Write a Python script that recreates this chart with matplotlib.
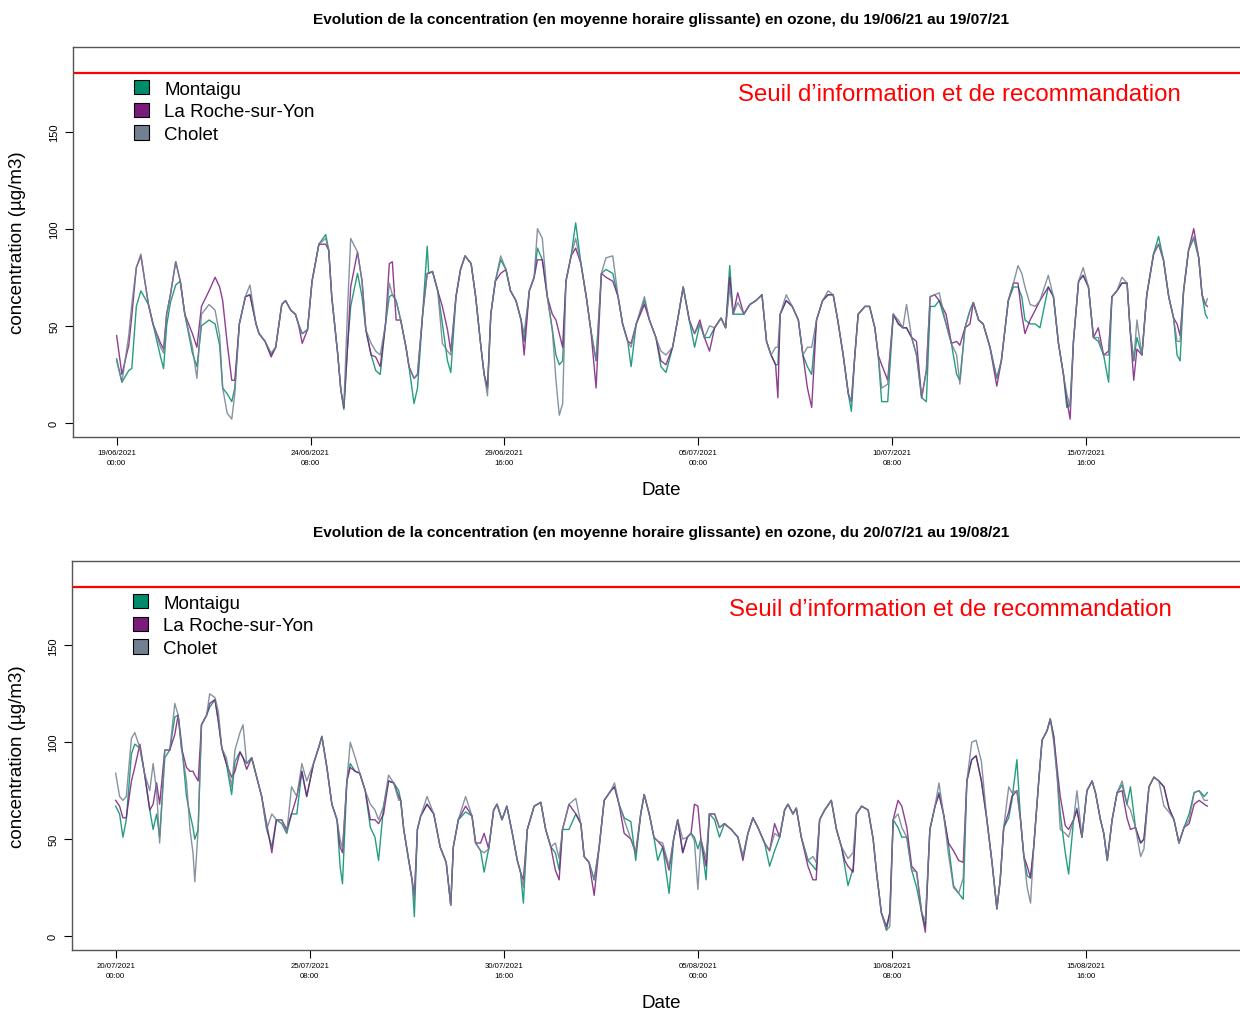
import matplotlib
matplotlib.use("Agg")
import matplotlib.pyplot as plt
from matplotlib.patches import Patch
import numpy as np

plt.rcParams['font.family'] = ['Liberation Sans', 'DejaVu Sans']

stations = ['Montaigu', 'La Roche-sur-Yon', 'Cholet']
colors = ['#008B6B', '#7B1C7D', '#708090']
seuil = 180
seuil_txt = 'Seuil d\u2019information et de recommandation'

# heures depuis le debut de la periode
tick_hours = [0, 128, 256, 384, 512, 640]

# ---- periode 1 : 19/06/21 -> 19/07/21
juin_title = 'Evolution de la concentration (en moyenne horaire glissante) en ozone, du 19/06/21 au 19/07/21'
juin_ticks = ['19/06/2021\n00:00', '24/06/2021\n08:00', '29/06/2021\n16:00',
              '05/07/2021\n00:00', '10/07/2021\n08:00', '15/07/2021\n16:00']
juin_h = [0, 3.5, 8, 10, 13, 16, 21, 24, 29, 31,
          33, 35.5, 39, 42, 45, 50, 53, 56, 61, 65,
          68, 70, 73, 76, 78, 81, 85, 88, 92, 94,
          98, 102, 105, 109, 111.5, 115, 118, 120, 122.5, 126,
          129, 133.5, 138, 140, 142, 146, 148, 150, 152.5, 154.5,
          159, 162, 164.5, 168, 171, 174, 177.5, 180, 182, 184.5,
          187.5, 191, 193, 196.3, 198.6, 202, 205, 206, 208.5, 212,
          215, 218.4, 220.6, 224, 227, 230, 234, 237, 240.5, 242.6,
          244.8, 247, 250, 253.5, 257, 260, 263.6, 267, 269, 272.4,
          275.6, 277.8, 281, 284.3, 287.6, 290, 292.2, 294.4, 296.6, 300,
          303, 306.5, 310, 313, 316.5, 320, 323, 327.5, 331, 334,
          337.4, 339.6, 343, 348.4, 351.7, 356, 359.3, 362.6, 367, 370.3,
          374, 378, 381.5, 385, 388, 391.4, 394.7, 399, 402, 404.7,
          407, 410, 414, 418, 422, 426, 429, 432, 435, 436.5,
          438, 442, 446, 450, 453, 456, 458.8, 462, 466, 469.6,
          473, 476, 479.6, 483, 485, 487.3, 489.5, 494, 497, 500.5,
          502.7, 505, 509, 512.7, 516, 519, 521.4, 524.8, 528, 531.4,
          534.5, 537, 540, 543, 547.5, 551, 554.5, 556.6, 560, 563.3,
          565.5, 569, 572, 576.5, 581, 584, 588.6, 592, 595, 597.5,
          599.6, 603, 606.3, 609.5, 615, 618.4, 621.7, 625, 627.2, 629.4,
          631.6, 635, 638, 641.5, 644.8, 648, 651.5, 654.8, 657, 660.3,
          663.6, 667, 669, 671.4, 673.5, 676.8, 680, 684.5, 687.8, 691,
          694.5, 697.7, 700, 702, 704.3, 707.6, 711, 714.3, 716.5, 718.7,
          720]
juin_montaigu = [33, 21, 27, 28, 60, 68, 61, 51, 34, 28,
                 50, 62, 71, 73, 56, 36, 29, 50, 53, 51,
                 40, 18, 15, 11, 18, 51, 65, 66, 51, 46,
                 42, 35, 39, 61, 63, 58, 56, 51, 46, 48,
                 73, 92, 97, 89, 65, 35, 17, 7, 40, 60,
                 77, 65, 48, 35, 27, 25, 51, 65, 66, 63,
                 53, 39, 29, 10, 18, 56, 91, 77, 78, 68,
                 51, 32, 26, 65, 79, 86, 82, 65, 39, 25,
                 18, 56, 73, 84, 79, 68, 63, 53, 42, 68,
                 75, 90, 84, 65, 48, 35, 30, 32, 73, 86,
                 103, 82, 65, 48, 32, 77, 79, 77, 65, 51,
                 42, 29, 51, 63, 53, 44, 29, 26, 39, 53,
                 70, 53, 39, 51, 44, 44, 49, 54, 49, 81,
                 56, 56, 56, 61, 63, 66, 42, 35, 30, 30,
                 56, 63, 60, 53, 35, 29, 25, 53, 63, 66,
                 66, 53, 35, 15, 6, 35, 56, 60, 60, 49,
                 35, 11, 11, 56, 51, 49, 49, 44, 35, 13,
                 11, 60, 60, 63, 51, 41, 25, 22, 49, 58,
                 62, 53, 51, 39, 23, 32, 63, 70, 70, 65,
                 53, 51, 51, 49, 70, 65, 41, 25, 8, 10,
                 42, 73, 76, 70, 44, 42, 35, 21, 65, 68,
                 72, 72, 48, 32, 44, 35, 66, 87, 96, 84,
                 65, 54, 35, 32, 68, 89, 95, 85, 66, 56,
                 54]
juin_roche = [45, 25, 40, 55, 80, 86, 61, 51, 41, 38,
              56, 66, 83, 73, 56, 46, 39, 60, 68, 75,
              70, 63, 41, 22, 22, 51, 65, 66, 51, 46,
              42, 34, 39, 61, 63, 58, 56, 51, 41, 48,
              73, 92, 92, 89, 65, 35, 17, 8, 40, 70,
              88, 73, 48, 35, 34, 29, 51, 82, 83, 53,
              53, 39, 29, 23, 25, 56, 77, 77, 78, 68,
              60, 48, 37, 65, 79, 86, 82, 65, 39, 25,
              18, 56, 73, 77, 79, 68, 63, 53, 35, 68,
              75, 84, 84, 65, 56, 53, 46, 39, 73, 86,
              90, 82, 65, 48, 18, 77, 75, 73, 65, 51,
              42, 41, 51, 61, 53, 44, 32, 30, 39, 53,
              70, 53, 46, 53, 44, 37, 49, 54, 49, 75,
              56, 67, 56, 61, 63, 66, 42, 35, 30, 13,
              56, 63, 60, 53, 35, 18, 8, 53, 63, 66,
              66, 53, 35, 15, 11, 35, 56, 60, 60, 49,
              35, 30, 22, 56, 51, 49, 49, 44, 42, 13,
              27, 65, 66, 63, 56, 41, 42, 40, 49, 51,
              62, 53, 51, 39, 19, 32, 63, 72, 72, 56,
              46, 53, 58, 63, 70, 65, 41, 25, 12, 2,
              42, 73, 76, 70, 44, 49, 35, 37, 65, 68,
              72, 72, 48, 22, 38, 35, 66, 87, 92, 84,
              65, 54, 51, 45, 68, 89, 100, 85, 66, 61,
              60]
juin_cholet = [32, 21, 45, 61, 80, 87, 61, 51, 39, 36,
               56, 66, 83, 73, 56, 39, 23, 56, 61, 58,
               45, 18, 5, 2, 15, 51, 65, 71, 51, 46,
               42, 36, 39, 61, 63, 58, 56, 51, 46, 48,
               73, 92, 95, 89, 65, 35, 17, 9, 60, 95,
               88, 73, 48, 41, 37, 35, 51, 72, 66, 63,
               53, 39, 29, 23, 25, 56, 77, 77, 78, 68,
               41, 37, 35, 65, 79, 86, 82, 65, 39, 25,
               14, 56, 73, 86, 79, 68, 63, 53, 46, 68,
               75, 100, 95, 65, 48, 22, 4, 10, 73, 86,
               95, 82, 65, 48, 32, 77, 85, 86, 65, 51,
               42, 39, 51, 65, 53, 44, 37, 35, 39, 53,
               70, 53, 46, 51, 44, 50, 49, 54, 49, 70,
               56, 62, 56, 61, 63, 66, 42, 35, 39, 39,
               56, 66, 60, 53, 35, 39, 39, 53, 63, 68,
               66, 53, 35, 15, 11, 35, 56, 60, 60, 49,
               35, 18, 20, 56, 53, 49, 61, 44, 35, 13,
               27, 65, 66, 67, 51, 41, 35, 20, 49, 58,
               62, 53, 51, 39, 23, 32, 63, 72, 81, 77,
               70, 61, 60, 63, 76, 65, 41, 25, 15, 8,
               42, 73, 80, 70, 44, 44, 35, 35, 65, 68,
               75, 72, 48, 32, 53, 35, 66, 87, 92, 84,
               65, 54, 42, 42, 68, 89, 96, 85, 66, 61,
               64]

# ---- periode 2 : 20/07/21 -> 19/08/21
aout_title = 'Evolution de la concentration (en moyenne horaire glissante) en ozone, du 20/07/21 au 19/08/21'
aout_ticks = ['20/07/2021\n00:00', '25/07/2021\n08:00', '30/07/2021\n16:00',
              '05/08/2021\n00:00', '10/08/2021\n08:00', '15/08/2021\n16:00']
aout_h = [0, 2.6, 4.8, 7, 10.4, 12.6, 16, 19, 22.5, 24.7,
          27, 29, 32.4, 35.7, 39, 41.2, 43.4, 46.7, 49, 51,
          52.2, 54.4, 56.6, 60, 62, 65.5, 67.7, 70, 73, 76.5,
          78.7, 82, 84, 86.4, 89.7, 93, 96.3, 99.6, 103, 106,
          109.5, 112.8, 116, 119.5, 122.8, 126, 130.5, 133.8, 136, 139.3,
          142.6, 146, 148, 149.6, 152.5, 154.7, 158, 161, 164.6, 168,
          171, 173.4, 176.7, 180, 183.4, 186.7, 188, 190, 193.3, 195.5,
          197, 199, 201.2, 205.4, 209.8, 214, 218, 221, 222.7, 226,
          230.8, 235, 237.4, 240.7, 243, 246, 249.3, 251.5, 254.8, 258,
          261.6, 264.9, 267, 268.9, 271.5, 276, 280.4, 283.6, 287, 290,
          292.5, 294.7, 299, 303.5, 306.8, 309, 312.2, 315.6, 318.9, 322.2,
          326.6, 329, 332, 335.4, 339.8, 343, 346.3, 348.6, 351.9, 355,
          357.5, 360.8, 365, 368, 370.7, 374, 377, 379.5, 381.7, 384,
          386, 389.4, 391.6, 395, 398.2, 401.5, 406, 410.4, 413.7, 417,
          420.3, 423.6, 428, 431.3, 434.6, 437.9, 441.2, 443.4, 446.7, 448.9,
          452.2, 456.6, 459.9, 462, 464.3, 467.6, 472, 475.4, 478.7, 480.9,
          483, 486.4, 488.6, 492, 496.3, 499.6, 501.8, 505, 508.4, 510.6,
          512.8, 516, 518.5, 521.8, 525, 528.3, 531.6, 534, 537, 540.4,
          543, 546, 549.3, 552.6, 556, 559, 561.4, 564.6, 567.5, 571,
          574.6, 578, 581.2, 583.4, 585.7, 589, 591.1, 594.4, 596.8, 599,
          601.2, 603.4, 605.5, 608.8, 611, 614.3, 616.4, 618.7, 621, 623,
          626.3, 628.5, 631.8, 634, 637.3, 640.6, 644, 646.2, 649.5, 651.7,
          654, 657.2, 660.5, 663.8, 667, 669.3, 672.6, 676, 678.2, 681.5,
          684.8, 688, 691.4, 694.7, 698, 701.3, 704.6, 708, 711.3, 714.6,
          718, 720]
aout_montaigu = [67, 63, 51, 60, 94, 99, 97, 84, 65, 55,
                 63, 51, 92, 96, 113, 114, 100, 72, 63, 56,
                 50, 55, 109, 114, 118, 122, 111, 97, 89, 73,
                 90, 95, 92, 89, 92, 82, 72, 55, 46, 60,
                 58, 53, 63, 63, 85, 72, 89, 97, 103, 87,
                 68, 60, 36, 27, 80, 89, 85, 84, 75, 56,
                 51, 39, 67, 80, 79, 75, 70, 55, 39, 29,
                 10, 55, 62, 68, 63, 46, 38, 16, 46, 60,
                 64, 62, 48, 44, 33, 45, 65, 68, 60, 67,
                 53, 39, 33, 17, 55, 67, 69, 55, 46, 43,
                 34, 55, 55, 63, 58, 41, 38, 29, 46, 70,
                 75, 77, 68, 61, 59, 39, 63, 73, 63, 51,
                 39, 46, 22, 50, 60, 43, 51, 53, 51, 45,
                 50, 29, 63, 60, 51, 58, 55, 51, 41, 53,
                 61, 56, 48, 36, 44, 51, 65, 68, 63, 66,
                 51, 39, 36, 34, 60, 65, 70, 55, 46, 36,
                 26, 35, 63, 67, 65, 50, 33, 12, 3, 12,
                 60, 56, 51, 51, 34, 25, 12, 5, 55, 67,
                 74, 63, 47, 26, 22, 19, 80, 91, 93, 80,
                 60, 38, 14, 29, 56, 61, 70, 91, 60, 41,
                 31, 30, 46, 80, 101, 106, 112, 103, 82, 63,
                 43, 32, 60, 66, 51, 75, 80, 74, 60, 53,
                 39, 60, 74, 78, 68, 77, 56, 48, 50, 77,
                 82, 80, 77, 66, 60, 48, 56, 63, 74, 75,
                 72, 74]
aout_roche = [70, 67, 61, 61, 80, 87, 99, 84, 65, 68,
              79, 68, 96, 96, 104, 114, 97, 87, 85, 85,
              83, 80, 109, 114, 120, 122, 111, 97, 89, 82,
              85, 95, 92, 86, 92, 82, 72, 58, 43, 60,
              60, 55, 63, 72, 85, 72, 89, 97, 103, 87,
              68, 60, 46, 43, 80, 87, 85, 84, 75, 60,
              60, 58, 63, 80, 79, 72, 70, 55, 39, 29,
              21, 55, 62, 68, 63, 46, 38, 16, 46, 60,
              67, 62, 48, 48, 53, 45, 65, 68, 60, 67,
              53, 39, 33, 29, 55, 67, 69, 55, 46, 34,
              29, 55, 68, 63, 58, 41, 38, 21, 46, 70,
              75, 77, 68, 53, 50, 43, 63, 73, 63, 51,
              49, 46, 34, 50, 60, 43, 51, 53, 68, 67,
              50, 36, 63, 63, 56, 58, 55, 51, 39, 53,
              61, 56, 48, 44, 58, 51, 65, 68, 63, 66,
              51, 36, 29, 29, 60, 65, 70, 55, 46, 39,
              36, 33, 63, 67, 65, 50, 33, 12, 5, 12,
              60, 70, 67, 56, 36, 33, 12, 2, 55, 67,
              73, 63, 48, 44, 39, 38, 80, 91, 93, 80,
              60, 38, 14, 29, 56, 64, 72, 75, 60, 41,
              36, 30, 46, 80, 101, 106, 112, 103, 86, 72,
              57, 55, 60, 65, 51, 75, 80, 74, 60, 53,
              39, 60, 74, 75, 61, 55, 56, 48, 50, 77,
              82, 80, 77, 66, 60, 48, 56, 58, 68, 70,
              68, 67]
aout_cholet = [84, 72, 70, 72, 102, 105, 97, 84, 75, 89,
               75, 48, 96, 96, 120, 114, 97, 80, 55, 43,
               28, 55, 109, 114, 125, 123, 116, 97, 92, 77,
               96, 105, 109, 89, 92, 82, 72, 55, 63, 60,
               60, 53, 77, 72, 89, 80, 89, 97, 103, 87,
               68, 60, 50, 45, 80, 100, 92, 84, 75, 68,
               65, 60, 67, 83, 79, 70, 70, 55, 39, 29,
               18, 55, 62, 72, 63, 46, 38, 16, 46, 60,
               72, 62, 48, 44, 43, 45, 65, 68, 60, 67,
               53, 39, 33, 25, 55, 67, 69, 55, 46, 48,
               40, 55, 68, 71, 58, 41, 38, 29, 46, 70,
               75, 79, 68, 60, 50, 43, 63, 73, 63, 51,
               49, 48, 36, 50, 60, 50, 51, 53, 49, 24,
               50, 40, 63, 63, 56, 58, 55, 51, 41, 53,
               61, 56, 48, 44, 53, 51, 65, 68, 63, 66,
               51, 39, 41, 38, 60, 65, 70, 55, 46, 43,
               40, 43, 63, 67, 65, 50, 33, 12, 3, 5,
               60, 63, 56, 51, 34, 33, 12, 8, 55, 67,
               79, 63, 42, 25, 22, 30, 80, 100, 101, 90,
               60, 38, 14, 29, 56, 77, 74, 75, 60, 41,
               25, 17, 46, 80, 101, 106, 112, 100, 82, 55,
               53, 51, 60, 75, 51, 75, 80, 74, 60, 53,
               39, 60, 74, 80, 68, 65, 56, 41, 45, 77,
               82, 80, 67, 64, 60, 48, 56, 60, 74, 75,
               70, 70]

W, H = 1240, 1012
fig = plt.figure(figsize=(W / 100, H / 100), dpi=100)


def panel(top, bottom, left, hours, series, ticks, title, title_y, date_y, ylab_y, seuil_xy):
    ax = fig.add_axes([left / W, 1 - bottom / H, (1251 - left) / W, (bottom - top) / H])
    for vals, col in zip(series, colors):
        ax.plot(hours, vals, color=col, lw=1, alpha=0.85)
    ax.axhline(seuil, color='red', lw=1.6)
    ax.set_xlim(-28.8, 748.8)
    ax.set_ylim(-7.2, 193.5)
    ax.set_yticks([0, 50, 100, 150])
    ax.set_xticks(tick_hours)
    ax.set_xticklabels(ticks, fontsize=5.6, linespacing=1.6)
    ax.tick_params(axis='y', labelrotation=90, labelsize=8, length=6, width=0.8, pad=4)
    ax.tick_params(axis='x', length=6, width=0.8, pad=3)
    for lab in ax.get_yticklabels():
        lab.set_va('center')
    for sp in ax.spines.values():
        sp.set_color('#555555')
        sp.set_linewidth(1)
    handles = [Patch(facecolor=c, edgecolor='black', lw=0.8, label=s) for s, c in zip(stations, colors)]
    ax.legend(handles=handles, loc='upper left', bbox_to_anchor=(0.052, 0.915), frameon=False,
              fontsize=13.5, handlelength=0.8, handleheight=0.8, labelspacing=0.26,
              handletextpad=0.8, borderpad=0, borderaxespad=0)
    fig.text(661 / W, 1 - title_y / H, title, ha='center', va='center', fontsize=11.1, weight='bold')
    fig.text(661 / W, 1 - date_y / H, 'Date', ha='center', va='center', fontsize=13.5)
    fig.text(18 / W, 1 - ylab_y / H, 'concentration (\u00b5g/m3)', rotation=90,
             ha='center', va='center', fontsize=13.5)
    fig.text(seuil_xy[0] / W, 1 - seuil_xy[1] / H, seuil_txt, color='red',
             ha='right', va='center', fontsize=17.3)
    return ax


panel(48, 438, 73, juin_h, [juin_montaigu, juin_roche, juin_cholet], juin_ticks,
      juin_title, 20, 491, 243, (1181, 95))
panel(562, 951, 72, aout_h, [aout_montaigu, aout_roche, aout_cholet], aout_ticks,
      aout_title, 533, 1004, 757, (1172, 610))

fig.savefig('out.png', dpi=100)
